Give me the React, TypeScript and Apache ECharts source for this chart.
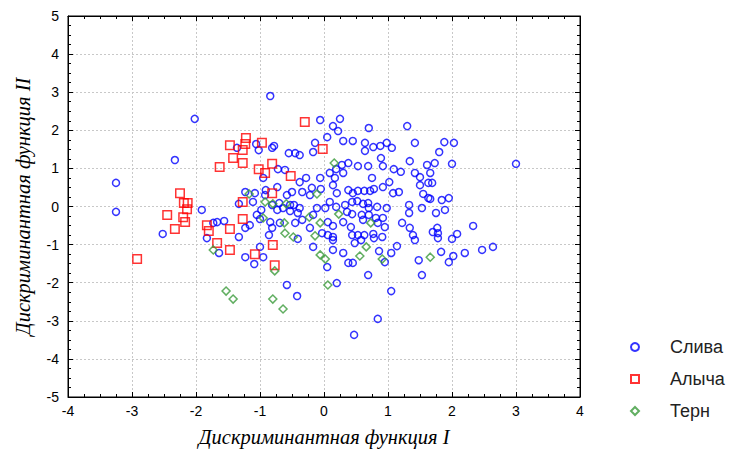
import React, { useEffect, useRef } from "react";
import * as echarts from "echarts";

const seriesNames = ["Слива", "Алыча", "Терн"];
const xTitle = "Дискриминантная функция I";
const yTitle = "Дискриминантная функция II";

const slivaPoints: [number, number][] = [
  [-2.02, 2.3], [-2.33, 1.22], [-3.25, 0.62], [-3.25, -0.14], [-1.91, -0.09], [-2.52, -0.72],
  [-1.73, -0.43], [-1.67, -0.41], [-1.56, -0.38], [-1.83, -0.83], [-1.64, -1.22],
  [-0.84, 2.9], [-0.06, 2.27], [0.25, 2.3], [0.14, 2.11], [0.22, 1.98], [0.7, 2.06], [0.05, 1.82], [1.3, 2.11],
  [-0.78, 1.59], [-1.02, 1.48], [-1.06, 1.64], [-0.81, 1.54], [-1.36, 1.54], [-0.55, 1.4], [-0.45, 1.4],
  [-0.38, 1.35], [-0.14, 1.67], [-0.17, 1.43], [-0.72, 0.98], [-0.61, 0.96], [-0.95, 0.75], [-0.38, 0.64],
  [-0.28, 0.75], [-0.06, 0.75], [-0.05, 0.46], [-0.19, 0.49], [-0.22, 0.3], [-0.34, 0.38], [-0.5, 0.38],
  [-0.58, 0.3], [-0.73, 0.51], [-0.91, 0.43], [-1.08, 0.35], [-1.23, 0.38], [-1.11, 0.12], [-0.92, 0.3],
  [-0.7, 0.09], [-0.53, 0.04], [-0.47, 0.04], [-0.38, -0.04], [-0.41, -0.17], [-0.53, -0.12], [-0.64, -0.04],
  [-0.73, -0.09], [-0.81, 0.04], [-0.98, -0.09], [-1.05, -0.22], [-1.0, -0.33], [-1.16, -0.49], [-1.23, -0.56],
  [-1.33, -0.8], [-1.33, 0.07], [-0.84, -0.41], [-0.81, -0.56], [-0.86, -0.75], [-0.69, -0.43], [-0.45, -0.43],
  [-0.41, -0.85], [-0.34, -0.35], [-0.11, -0.04], [-0.17, -0.22], [0.02, -0.04], [0.06, -0.41], [-0.22, -0.56],
  [-0.03, -0.7], [0.06, -0.75], [-0.17, -1.06], [-1.23, -1.33], [-1.09, -1.51], [-0.95, -1.33], [-1.0, -1.06],
  [0.05, -1.59],
  [0.3, 1.72], [0.45, 1.72], [0.64, 1.67], [0.64, 1.46], [0.77, 1.56], [0.88, 1.59], [0.98, 1.67], [1.06, 1.54],
  [1.42, 1.67], [0.89, 1.27], [0.92, 1.06], [1.34, 1.19], [1.61, 1.09], [0.28, 1.09], [0.38, 1.14], [0.53, 1.06],
  [0.69, 1.06], [0.19, 0.98], [0.3, 0.88], [0.17, 0.75], [0.09, 0.88], [0.14, 0.56], [0.2, 0.35], [0.38, 0.43],
  [0.45, 0.35], [0.53, 0.41], [0.63, 0.41], [0.72, 0.41], [0.78, 0.46], [0.75, 0.75], [0.92, 0.51], [1.02, 0.64],
  [1.09, 0.98], [1.2, 0.91], [1.08, 0.35], [1.17, 0.38], [1.42, 0.88], [1.5, 0.77], [1.5, 0.56], [1.63, 0.62],
  [1.55, 0.33], [1.63, 0.22], [0.09, 0.12], [0.19, -0.01], [0.33, 0.04], [0.44, 0.12], [0.52, 0.14], [0.61, 0.07],
  [0.69, 0.09], [0.83, -0.01], [0.7, -0.04], [0.36, -0.14], [0.44, -0.2], [0.59, -0.22], [0.7, -0.22], [0.61, -0.35],
  [0.81, -0.3], [0.92, -0.3], [0.84, -0.43], [0.14, -0.51], [0.3, -0.41], [0.42, -0.54], [0.44, -0.75], [0.53, -0.75],
  [0.63, -0.75], [0.77, -0.72], [0.78, -0.83], [0.91, -0.8], [0.14, -0.8], [0.14, -0.88], [0.48, -0.96], [0.58, -0.88],
  [0.14, -1.14], [0.3, -1.22], [0.38, -1.48], [0.45, -1.48], [0.86, -1.17], [1.05, -1.22], [1.14, -1.04],
  [1.33, -0.17], [1.33, 0.04], [1.22, -0.43], [1.34, -0.56], [1.39, -0.75], [1.42, -0.88], [1.48, -1.41],
  [0.69, -1.8], [1.53, -1.8], [0.98, -0.04], [1.53, -0.04], [0.95, -0.54], [0.95, -1.46],
  [1.88, 1.69], [2.03, 1.67], [1.8, 1.43], [1.73, 1.14], [2.0, 1.12], [1.66, 0.88], [1.69, 0.62], [1.66, 0.2],
  [1.84, 0.17], [1.95, 0.22], [1.89, -0.09], [1.75, -0.17], [2.33, -0.51], [1.77, -0.56], [1.78, -0.7], [1.7, -0.67],
  [1.78, -0.83], [2.08, -0.72], [2.0, -0.85], [1.83, -1.19], [2.02, -1.3], [1.95, -1.46], [2.2, -1.22], [2.47, -1.14],
  [2.64, -1.06], [3.0, 1.12],
  [-0.58, -2.06], [-0.42, -2.35], [0.2, -2.01], [1.05, -2.22], [0.84, -2.95], [0.47, -3.37],
];

const alychaPoints: [number, number][] = [
  [-2.92, -1.38], [-2.45, -0.22], [-2.33, -0.59], [-2.2, -0.28], [-2.17, -0.41], [-2.19, 0.09], [-2.13, 0.09],
  [-2.14, -0.07], [-2.25, 0.35], [-1.83, -0.49], [-1.8, -0.64], [-1.67, -0.96], [-1.47, -0.59], [-1.47, -1.14],
  [-1.63, 1.04], [-1.42, 1.27], [-1.47, 1.61], [-1.22, 1.8], [-1.23, 1.64], [-1.27, 1.48], [-1.27, 1.14],
  [-0.97, 1.67], [-0.81, 1.12], [-1.02, 0.98], [-0.92, 0.88], [-0.52, 0.8], [-0.81, 0.35], [-1.27, 0.12],
  [-1.27, -0.33], [-0.8, -1.01], [-1.08, -1.25], [-0.77, -1.54], [-0.3, 2.22], [-0.02, 1.51],
];

const ternPoints: [number, number][] = [
  [-1.73, -1.14], [-1.53, -2.22], [-1.42, -2.43], [0.16, 1.14], [-1.17, 0.33], [-0.92, 0.12], [-0.8, 0.07],
  [-0.59, 0.07], [-0.11, 0.33], [-0.23, -0.28], [0.23, -0.2], [-0.95, -0.3], [-0.62, -0.43], [-0.06, -0.43],
  [-0.61, -0.7], [-0.48, -0.8], [-0.14, -0.77], [0.73, -0.43], [0.66, -1.06], [0.56, -1.3], [-0.06, -1.27],
  [0.02, -1.38], [0.91, -1.38], [-0.77, -1.69], [0.06, -2.06], [-0.8, -2.43], [-0.64, -2.69], [1.66, -1.33],
];

const titleFont = "'Liberation Serif', 'DejaVu Serif', serif";
const labelFont = "'Liberation Sans', Arial, sans-serif";

function axisCommon(showLabels: boolean) {
  return {
    axisLine: { show: true, onZero: false, lineStyle: { color: "#000", width: 1 } },
    axisTick: { show: true, inside: true, length: 5, lineStyle: { color: "#000" } },
    minorTick: { show: true, splitNumber: 4, length: 3, lineStyle: { color: "#000" } },
    axisLabel: {
      show: showLabels,
      color: "#000",
      fontFamily: labelFont,
      fontSize: 14,
    },
  };
}

export default function App() {
  const ref = useRef<HTMLDivElement>(null);
  useEffect(() => {
    if (!ref.current) return;
    const chart = echarts.init(ref.current, null, { renderer: "svg" });
    const split = { show: true, lineStyle: { color: "#c8c8c8", type: [2, 2], width: 1 } };
    chart.setOption({
      animation: false,
      backgroundColor: "#fff",
      grid: { left: 68, right: 154, top: 16, bottom: 62, show: true, borderColor: "#000", borderWidth: 1 },
      legend: {
        orient: "vertical",
        left: 625,
        top: 333,
        itemWidth: 8,
        itemHeight: 8,
        itemGap: 14,
        data: seriesNames,
        textStyle: { fontFamily: labelFont, fontSize: 18, color: "#222", padding: [0, 0, 0, 26] },
      },
      xAxis: [
        {
          type: "value", min: -4, max: 4, interval: 1, position: "bottom",
          ...axisCommon(true),
          axisLabel: { ...axisCommon(true).axisLabel, margin: 7 },
          splitLine: split,
          name: xTitle, nameLocation: "middle", nameGap: 30,
          nameTextStyle: { fontFamily: titleFont, fontStyle: "italic", fontSize: 20.5, color: "#000" },
        },
        {
          type: "value", min: -4, max: 4, interval: 1, position: "top",
          ...axisCommon(false), splitLine: { show: false },
        },
      ],
      yAxis: [
        {
          type: "value", min: -5, max: 5, interval: 1, position: "left",
          ...axisCommon(true),
          axisLabel: { ...axisCommon(true).axisLabel, margin: 9 },
          splitLine: split,
          name: yTitle, nameLocation: "middle", nameGap: 35,
          nameTextStyle: { fontFamily: titleFont, fontStyle: "italic", fontSize: 20.5, color: "#000" },
        },
        {
          type: "value", min: -5, max: 5, interval: 1, position: "right",
          ...axisCommon(false), splitLine: { show: false },
        },
      ],
      series: [
        {
          name: seriesNames[0], type: "scatter", data: slivaPoints, symbol: "circle", symbolSize: 7,
          itemStyle: { color: "rgba(255,255,255,0)", borderColor: "#0000ff", borderWidth: 1.5 },
        },
        {
          name: seriesNames[1], type: "scatter", data: alychaPoints, symbol: "rect", symbolSize: 8.5,
          itemStyle: { color: "rgba(255,255,255,0)", borderColor: "#ff0000", borderWidth: 1.5 },
        },
        {
          name: seriesNames[2], type: "scatter", data: ternPoints, symbol: "diamond", symbolSize: 8,
          itemStyle: { color: "rgba(255,255,255,0)", borderColor: "#3a9a3a", borderWidth: 1.5 },
        },
      ],
    });
    return () => chart.dispose();
  }, []);
  return <div ref={ref} style={{ width: 734, height: 459, position: "absolute", left: 0, top: 0 }} />;
}
